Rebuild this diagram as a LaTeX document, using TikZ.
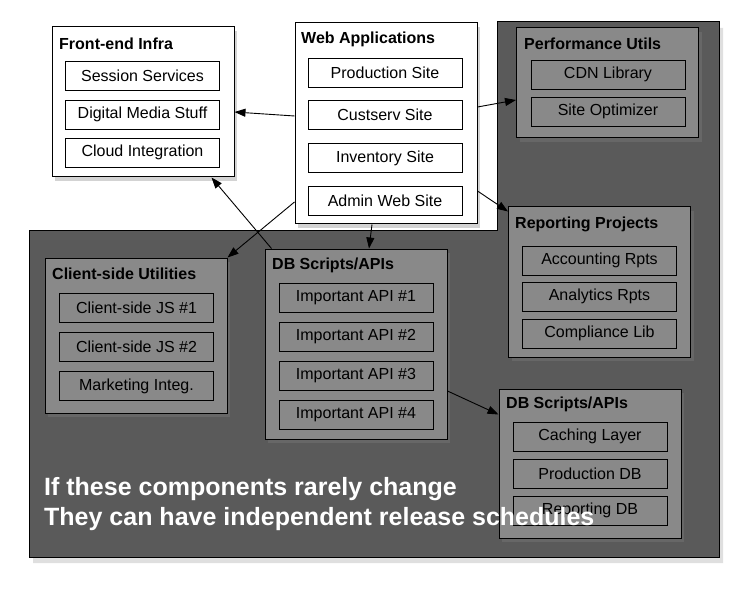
\documentclass[tikz,border=0pt]{standalone}
\usepackage{fontspec}
\setmainfont{Liberation Sans}
\usetikzlibrary{arrows.meta,shadows}
\definecolor{backdrop}{HTML}{5A5A5A}
\definecolor{groupgray}{HTML}{898989}

\begin{document}
\begin{tikzpicture}[x=1pt,y=-1pt,font=\fontsize{16}{19}\selectfont,
  shade/.style={drop shadow={shadow xshift=3pt,shadow yshift=-4pt,opacity=0.35}},
  group/.style={draw=black,line width=1pt,minimum width=182pt,inner sep=0pt,shade},
  light/.style={group,fill=white},
  dark/.style={group,fill=groupgray},
  item/.style={draw=black,line width=0.8pt,fill=#1,minimum width=154pt,minimum height=29pt,inner sep=0pt},
  item/.default=white,
  title/.style={anchor=west,inner sep=0pt,font=\fontsize{16}{19}\selectfont\bfseries},
  link/.style={-{Triangle[length=11pt,width=8pt]},line width=0.9pt}]
  \useasboundingbox (0,0) rectangle (745,591);

  % The dark backdrop
  \draw[fill=backdrop,line width=1pt,drop shadow={shadow xshift=4pt,shadow yshift=-6pt,opacity=0.25}]
    (29,231) -- (497,231) -- (497,22) -- (719,22) -- (719,557) -- (29,557) -- cycle;

  % Groups in the white area
  \node[light,minimum height=150pt] (fe) at (143,102) {};
  \node[title] (fe-title) at (59,44) {Front-end Infra};
  \node[item] (session) at (142.5,75.5) {Session Services};
  \node[item] (media) at (142.5,114.5) {Digital Media Stuff};
  \node[item] (cloud) at (142.5,152.5) {Cloud Integration};

  \node[light,minimum height=201pt] (web) at (386,123.5) {};
  \node[title] (web-title) at (301,39) {Web Applications};
  \node[item] (prod) at (385,72.5) {Production Site};
  \node[item] (cust) at (385,115) {Custserv Site};
  \node[item] (inv) at (385,158) {Inventory Site};
  \node[item] (admin) at (385,200.5) {Admin Web Site};

  % Groups on the backdrop
  \node[dark,minimum height=110pt] (perf) at (607.5,83) {};
  \node[title] (perf-title) at (524,44) {Performance Utils};
  \node[item=groupgray] (cdn) at (608,74.5) {CDN Library};
  \node[item=groupgray] (opt) at (608,111.5) {Site Optimizer};

  \node[dark,minimum height=150pt] (rep) at (599.5,282) {};
  \node[title] (rep-title) at (515,224) {Reporting Projects};
  \node[item=groupgray] (acct) at (599.5,260.5) {Accounting Rpts};
  \node[item=groupgray] (anal) at (599.5,296.5) {Analytics Rpts};
  \node[item=groupgray] (comp) at (599.5,333.5) {Compliance Lib};

  \node[dark,minimum height=155pt] (client) at (136,335.5) {};
  \node[title] (client-title) at (52,274) {Client-side Utilities};
  \node[item=groupgray] (js1) at (136.5,307.5) {Client-side JS \#1};
  \node[item=groupgray] (js2) at (136.5,346.5) {Client-side JS \#2};
  \node[item=groupgray] (mkt) at (136.5,386) {Marketing Integ.};

  \node[dark,minimum height=190pt] (db) at (356,344) {};
  \node[title] (db-title) at (272,265) {DB Scripts/APIs};
  \node[item=groupgray] (api1) at (356,297.5) {Important API \#1};
  \node[item=groupgray] (api2) at (356,336.5) {Important API \#2};
  \node[item=groupgray] (api3) at (356,375.5) {Important API \#3};
  \node[item=groupgray] (api4) at (356,414.5) {Important API \#4};

  \node[dark,minimum height=149pt] (store) at (590,463.5) {};
  \node[title] (store-title) at (506,404) {DB Scripts/APIs};
  \node[item=groupgray] (cache) at (590,436.5) {Caching Layer};
  \node[item=groupgray] (proddb) at (590,473.5) {Production DB};
  \node[item=groupgray] (repdb) at (590,510.5) {Reporting DB};

  % Dependencies
  \draw[link] ([yshift=7.5pt]web.west) -- ([yshift=-10pt]fe.east);
  \draw[link] ([yshift=16.5pt]web.east) -- ([yshift=-17pt]perf.west);
  \draw[link] ([yshift=-67.5pt]web.east) -- ([yshift=-5pt]rep.north west);
  \draw[link] ([xshift=-14pt]web.south) -- ([xshift=13pt]db.north);
  \draw[link] ([yshift=-78.5pt]web.west) -- (client.north east);
  \draw[link] ([xshift=7pt]db.north west) -- ([xshift=-23pt]fe.south east);
  \draw[link] ([yshift=-47pt]db.east) -- ([yshift=-26pt]store.north west);

  % Message over the backdrop
  \node[anchor=west,align=left,inner sep=0pt,text=white,font=\fontsize{25}{30}\selectfont\bfseries] (note) at (44,504)
    {If these components rarely change\\They can have independent release schedules};
\end{tikzpicture}
\end{document}
